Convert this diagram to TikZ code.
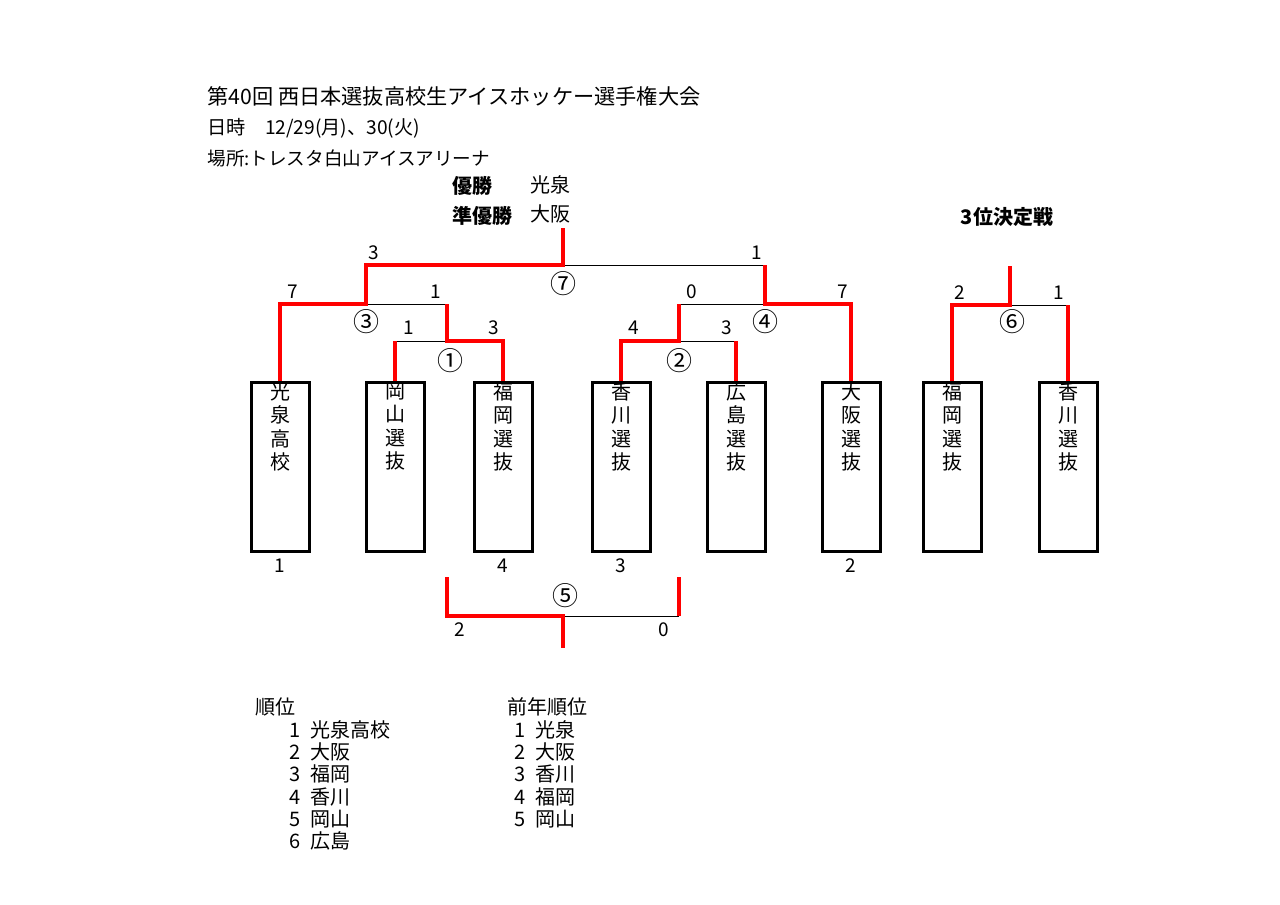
\documentclass[tikz,border=0pt]{standalone}
\usepackage{fontspec}
\setmainfont{Noto Sans CJK JP}
\usetikzlibrary{positioning}
\tikzset{
  teambox/.style={rectangle, draw=black, line width=1.5pt, minimum width=29pt, minimum height=84.5pt, inner sep=0pt},
  teamname/.style={anchor=north, align=center, inner sep=0.5pt, font=\fontsize{10}{11.75}\selectfont},
  win/.style={draw=red, line width=2pt},
  lose/.style={draw=black, line width=0.5pt},
  score/.style={inner sep=0pt, font=\fontsize{9.5}{10}\selectfont},
  gameno/.style={inner sep=0pt, font=\fontsize{13}{14}\selectfont},
  txt/.style={anchor=west, inner sep=0pt, font=\fontsize{10}{12}\selectfont},
  head/.style={anchor=west, inner sep=0pt, font=\fontsize{10}{12}\selectfont\bfseries}
}
\begin{document}
\begin{tikzpicture}[x=0.5pt,y=-0.5pt]
  \useasboundingbox (0,0) rectangle (1280,905);
  % header
  \node[txt, font=\fontsize{10.6}{13}\selectfont] (title) at (207,96) {第40回 西日本選抜高校生アイスホッケー選手権大会};
  \node[txt, font=\fontsize{9.6}{12}\selectfont] (date) at (207,128) {日時\quad 12/29(月)、30(火)};
  \node[txt, font=\fontsize{9.3}{12}\selectfont] (venue) at (207,158) {場所:トレスタ白山アイスアリーナ};
  \node[head] (winlbl) at (452,186) {優勝};
  \node[txt] (winner) at (530,185) {光泉};
  \node[head] (runlbl) at (452,216) {準優勝};
  \node[txt] (runner) at (530,214) {大阪};
  \node[head, anchor=center] (thirdlbl) at (1007,217) {3位決定戦};
  % boxes
  \node[teambox] (kos) at (280,467) {};
  \node[teambox] (oka) at (395,467) {};
  \node[teambox] (fuk) at (503,467) {};
  \node[teambox] (kag) at (621,467) {};
  \node[teambox] (hir) at (736,467) {};
  \node[teambox] (osa) at (851,467) {};
  \node[teambox] (fuk2) at (952,467) {};
  \node[teambox] (kag2) at (1068,467) {};
  \node[teamname] (kosN) at (kos.north) {光\\泉\\高\\校};
  \node[teamname] (okaN) at (oka.north) {岡\\山\\選\\抜};
  \node[teamname] (fukN) at (fuk.north) {福\\岡\\選\\抜};
  \node[teamname] (kagN) at (kag.north) {香\\川\\選\\抜};
  \node[teamname] (hirN) at (hir.north) {広\\島\\選\\抜};
  \node[teamname] (osaN) at (osa.north) {大\\阪\\選\\抜};
  \node[teamname] (fuk2N) at (fuk2.north) {福\\岡\\選\\抜};
  \node[teamname] (kag2N) at (kag2.north) {香\\川\\選\\抜};
  % final places under boxes
  \node[score] (kosR) at (280,566) {1};
  \node[score] (fukR) at (503,566) {4};
  \node[score] (kagR) at (621,566) {3};
  \node[score] (osaR) at (851,566) {2};
  % games
  \coordinate (g1) at (447,341);
  \coordinate (g2) at (679,341);
  \coordinate (g3) at (366,304);
  \coordinate (g4) at (765,304);
  \coordinate (g7) at (563,265);
  \coordinate (champ) at (563,228);
  \coordinate (g6) at (1010,305);
  \coordinate (third) at (1010,266);
  \coordinate (g5) at (563,616);
  \coordinate (g5end) at (563,648);
  \coordinate (g5l) at (447,577);
  \coordinate (g5r) at (679,577);
  % lost sides
  \draw[lose] (g1) -- (oka.north |- g1);
  \draw[lose] (g2) -- (hir.north |- g2);
  \draw[lose] (g3) -- (g1 |- g3);
  \draw[lose] (g4) -- (g2 |- g4);
  \draw[lose] (g7) -- (g4 |- g7);
  \draw[lose] (g6) -- (kag2.north |- g6);
  \draw[lose] (g5) -- (g5r |- g5);
  % won sides
  \draw[win] (oka.north) -- (oka.north |- g1);
  \draw[win] (fuk.north) |- (g1) -- (g1 |- g3);
  \draw[win] (hir.north) -- (hir.north |- g2);
  \draw[win] (kag.north) |- (g2) -- (g2 |- g4);
  \draw[win] (kos.north) |- (g3) |- (g7) -- (champ);
  \draw[win] (osa.north) |- (g4) -- (g4 |- g7);
  \draw[win] (fuk2.north) |- (g6) -- (third);
  \draw[win] (kag2.north) -- (kag2.north |- g6);
  \draw[win] (g5l) |- (g5) -- (g5end);
  \draw[win] (g5r) -- (g5r |- g5);
  % scores
  \node[score] (s1a) at (409,328) {1};
  \node[score] (s1b) at (494,328) {3};
  \node[score] (s2a) at (634,328) {4};
  \node[score] (s2b) at (727,328) {3};
  \node[score] (s3a) at (293,292) {7};
  \node[score] (s3b) at (436,292) {1};
  \node[score] (s4a) at (692,292) {0};
  \node[score] (s4b) at (843,292) {7};
  \node[score] (s7a) at (374,253) {3};
  \node[score] (s7b) at (757,253) {1};
  \node[score] (s6a) at (960,293) {2};
  \node[score] (s6b) at (1059,293) {1};
  \node[score] (s5a) at (460,630) {2};
  \node[score] (s5b) at (664,630) {0};
  % game numbers
  \node[gameno] (n1) at (450,361) {①};
  \node[gameno] (n2) at (679,361) {②};
  \node[gameno] (n3) at (366,322) {③};
  \node[gameno] (n4) at (765,322) {④};
  \node[gameno] (n5) at (565,596) {⑤};
  \node[gameno] (n6) at (1012,322) {⑥};
  \node[gameno] (n7) at (563,284) {⑦};
  % standings
  \node[txt] (rank) at (255,707) {順位};
  \node[txt] (rank1) at (289,730) {1\enspace 光泉高校};
  \node[txt] (rank2) at (289,752) {2\enspace 大阪};
  \node[txt] (rank3) at (289,774) {3\enspace 福岡};
  \node[txt] (rank4) at (289,797) {4\enspace 香川};
  \node[txt] (rank5) at (289,819) {5\enspace 岡山};
  \node[txt] (rank6) at (289,841) {6\enspace 広島};
  \node[txt] (prev) at (507,707) {前年順位};
  \node[txt] (prev1) at (514,730) {1\enspace 光泉};
  \node[txt] (prev2) at (514,752) {2\enspace 大阪};
  \node[txt] (prev3) at (514,774) {3\enspace 香川};
  \node[txt] (prev4) at (514,797) {4\enspace 福岡};
  \node[txt] (prev5) at (514,819) {5\enspace 岡山};
\end{tikzpicture}
\end{document}
